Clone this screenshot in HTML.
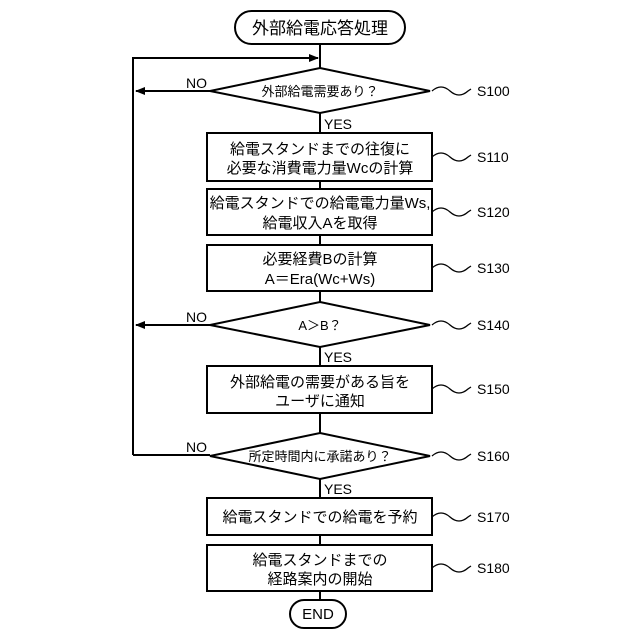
<!DOCTYPE html>
<html><head><meta charset="utf-8"><style>body{margin:0;background:#fff}svg{display:block}</style></head><body>
<svg width="640" height="640" viewBox="0 0 640 640" xmlns="http://www.w3.org/2000/svg" font-family="'Liberation Sans','Noto Sans CJK JP',sans-serif" fill="none" stroke="#000" stroke-width="2">
<defs><marker id="a" markerWidth="10" markerHeight="8" refX="9" refY="4" orient="auto" markerUnits="userSpaceOnUse"><path d="M0,0 L10,4 L0,8 Z" fill="#000" stroke="none"/></marker></defs>
<rect x="235" y="11" width="170" height="33" rx="16.5" fill="#fff"/>
<line x1="320" y1="44" x2="320" y2="68"/>
<polyline points="133,455 133,58 318,58" marker-end="url(#a)"/>
<polygon points="320,68 430,91 320,113 210,91" fill="#fff"/>
<line x1="210" y1="91" x2="136" y2="91" marker-end="url(#a)"/>
<line x1="320" y1="113" x2="320" y2="133"/>
<rect x="207" y="133" width="225" height="48" fill="#fff"/>
<line x1="320" y1="181" x2="320" y2="189"/>
<rect x="207" y="189" width="225" height="46" fill="#fff"/>
<line x1="320" y1="235" x2="320" y2="245"/>
<rect x="207" y="245" width="225" height="46" fill="#fff"/>
<line x1="320" y1="291" x2="320" y2="302"/>
<polygon points="320,302 430,325 320,347 210,325" fill="#fff"/>
<line x1="210" y1="325" x2="136" y2="325" marker-end="url(#a)"/>
<line x1="320" y1="347" x2="320" y2="366"/>
<rect x="207" y="366" width="225" height="47" fill="#fff"/>
<line x1="320" y1="413" x2="320" y2="433"/>
<polygon points="320,433 430,456 320,479 210,456" fill="#fff"/>
<line x1="210" y1="455" x2="133" y2="455"/>
<line x1="320" y1="479" x2="320" y2="498"/>
<rect x="207" y="498" width="225" height="37" fill="#fff"/>
<line x1="320" y1="535" x2="320" y2="545"/>
<rect x="207" y="545" width="225" height="46" fill="#fff"/>
<line x1="320" y1="591" x2="320" y2="600"/>
<rect x="290" y="600" width="56" height="28" rx="14" fill="#fff"/>
<g stroke-width="1.3">
<path d="M432,91 q9,-8 18,0 t18,0 l3,-2"/>
<path d="M432,157 q9,-8 18,0 t18,0 l3,-2"/>
<path d="M432,212 q9,-8 18,0 t18,0 l3,-2"/>
<path d="M432,268 q9,-8 18,0 t18,0 l3,-2"/>
<path d="M432,325 q9,-8 18,0 t18,0 l3,-2"/>
<path d="M432,389 q9,-8 18,0 t18,0 l3,-2"/>
<path d="M432,456 q9,-8 18,0 t18,0 l3,-2"/>
<path d="M432,517 q9,-8 18,0 t18,0 l3,-2"/>
<path d="M432,568 q9,-8 18,0 t18,0 l3,-2"/>
</g>
<g fill="#000" stroke="none" font-size="15">
<text x="320" y="34" text-anchor="middle" font-size="17">外部給電応答処理</text>
<text x="320" y="96" text-anchor="middle" font-size="13">外部給電需要あり？</text>
<text x="320" y="154" text-anchor="middle">給電スタンドまでの往復に</text>
<text x="320" y="173" text-anchor="middle">必要な消費電力量Wcの計算</text>
<text x="320" y="208" text-anchor="middle">給電スタンドでの給電電力量Ws,</text>
<text x="320" y="228" text-anchor="middle">給電収入Aを取得</text>
<text x="320" y="264" text-anchor="middle">必要経費Bの計算</text>
<text x="320" y="284" text-anchor="middle">A＝Era(Wc+Ws)</text>
<text x="320" y="330" text-anchor="middle" font-size="13">A＞B？</text>
<text x="320" y="387" text-anchor="middle">外部給電の需要がある旨を</text>
<text x="320" y="406" text-anchor="middle">ユーザに通知</text>
<text x="320" y="461" text-anchor="middle" font-size="13">所定時間内に承諾あり？</text>
<text x="320" y="522" text-anchor="middle">給電スタンドでの給電を予約</text>
<text x="320" y="565" text-anchor="middle">給電スタンドまでの</text>
<text x="320" y="584" text-anchor="middle">経路案内の開始</text>
<text x="318" y="619" text-anchor="middle" font-size="15">END</text>
<g font-size="14">
<text x="186" y="88">NO</text><text x="186" y="322">NO</text><text x="186" y="452">NO</text>
<text x="324" y="129">YES</text><text x="324" y="362">YES</text><text x="324" y="494">YES</text>
</g>
<g font-size="14">
<text x="477" y="96">S100</text><text x="477" y="162">S110</text><text x="477" y="217">S120</text>
<text x="477" y="273">S130</text><text x="477" y="330">S140</text><text x="477" y="394">S150</text>
<text x="477" y="461">S160</text><text x="477" y="522">S170</text><text x="477" y="573">S180</text>
</g>
</g>
</svg>
</body></html>
